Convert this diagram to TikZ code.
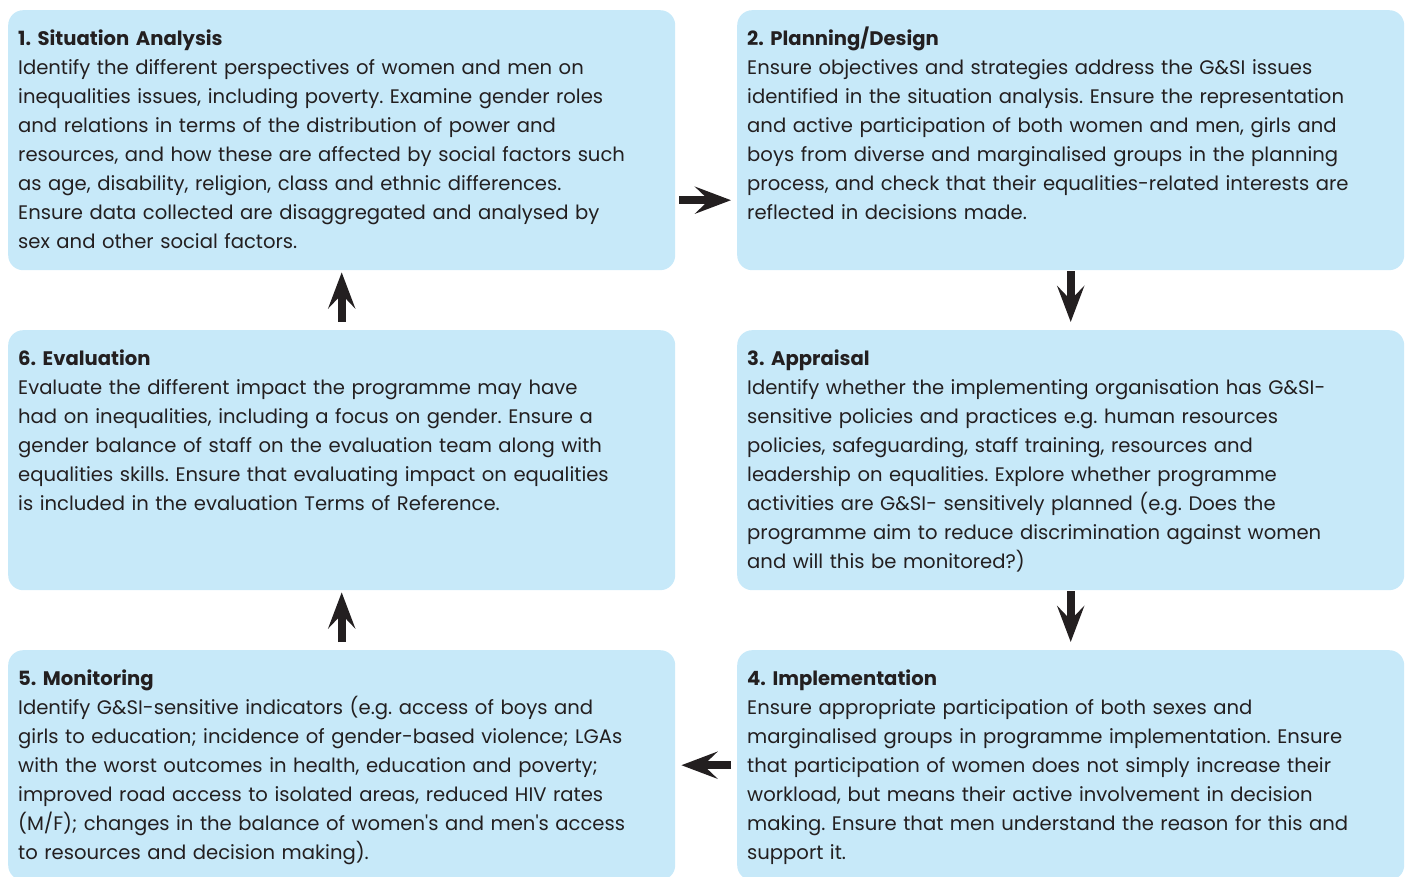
\documentclass[tikz,border=0pt]{standalone}
\usepackage{fontspec}
\setmainfont{Poppins}
\usetikzlibrary{arrows.meta}
\definecolor{boxblue}{RGB}{199,233,249}
\definecolor{ink}{RGB}{35,31,32}
\frenchspacing

\begin{document}
\begin{tikzpicture}[x=1pt,y=-1pt]
	\useasboundingbox (0,0) rectangle (1406,877);
	\begin{scope}[every node/.style={rectangle,rounded corners=15pt,fill=boxblue,
	              minimum width=667pt,minimum height=260pt,inner sep=0pt,anchor=north west}]
	    	\node (1) at (8,10) {};
	    	\node (2) at (737,10) {};
	    	\node (6) at (8,330) {};
	    	\node (3) at (737,330) {};
	    	\node[minimum height=230pt] (5) at (8,650) {};
	    	\node[minimum height=230pt] (4) at (737,650) {};
	\end{scope}

	\begin{scope}[every node/.style={anchor=north west,inner sep=0pt,text width=662pt,align=left,
	              text=ink,font=\fontsize{19.6}{29}\selectfont}]
		\node (t1) at ([xshift=10pt,yshift=-15pt]1.north west) {\rule{0pt}{20pt}\textbf{1. Situation Analysis}\\
			Identify the different perspectives of women and men on\\
			inequalities issues, including poverty. Examine gender roles\\
			and relations in terms of the distribution of power and\\
			resources, and how these are affected by social factors such\\
			as age, disability, religion, class and ethnic differences.\\
			Ensure data collected are disaggregated and analysed by\\
			sex and other social factors.};
		\node (t2) at ([xshift=10pt,yshift=-15pt]2.north west) {\rule{0pt}{20pt}\textbf{2. Planning/Design}\\
			Ensure objectives and strategies address the G\&SI issues\\
			identified in the situation analysis. Ensure the representation\\
			and active participation of both women and men, girls and\\
			boys from diverse and marginalised groups in the planning\\
			process, and check that their equalities-related interests are\\
			reflected in decisions made.};
		\node (t3) at ([xshift=10pt,yshift=-15pt]3.north west) {\rule{0pt}{20pt}\textbf{3. Appraisal}\\
			Identify whether the implementing organisation has G\&SI-\\
			sensitive policies and practices e.g. human resources\\
			policies, safeguarding, staff training, resources and\\
			leadership on equalities. Explore whether programme\\
			activities are G\&SI- sensitively planned (e.g. Does the\\
			programme aim to reduce discrimination against women\\
			and will this be monitored?)};
		\node (t4) at ([xshift=10pt,yshift=-15pt]4.north west) {\rule{0pt}{20pt}\textbf{4. Implementation}\\
			Ensure appropriate participation of both sexes and\\
			marginalised groups in programme implementation. Ensure\\
			that participation of women does not simply increase their\\
			workload, but means their active involvement in decision\\
			making. Ensure that men understand the reason for this and\\
			support it.};
		\node (t5) at ([xshift=10pt,yshift=-15pt]5.north west) {\rule{0pt}{20pt}\textbf{5. Monitoring}\\
			Identify G\&SI-sensitive indicators (e.g. access of boys and\\
			girls to education; incidence of gender-based violence; LGAs\\
			with the worst outcomes in health, education and poverty;\\
			improved road access to isolated areas, reduced HIV rates\\
			(M/F); changes in the balance of women\textquotesingle s and men\textquotesingle s access\\
			to resources and decision making).};
		\node (t6) at ([xshift=10pt,yshift=-15pt]6.north west) {\rule{0pt}{20pt}\textbf{6. Evaluation}\\
			Evaluate the different impact the programme may have\\
			had on inequalities, including a focus on gender. Ensure a\\
			gender balance of staff on the evaluation team along with\\
			equalities skills. Ensure that evaluating impact on equalities\\
			is included in the evaluation Terms of Reference.};
	\end{scope}

	\begin{scope}[>={Stealth[length=36pt,width=27pt,inset=14pt]},
	              every edge/.style={draw=ink,line width=8pt,->}]
		\path ([yshift=-60pt]1.east) edge[shorten <=4pt,shorten >=6pt] ([yshift=-60pt]2.west);
		\path (2) edge[shorten <=1pt,shorten >=8pt] (3);
		\path (3) edge[shorten <=1pt,shorten >=8pt] (4);
		\path (4) edge[shorten <=6pt,shorten >=6pt] (5);
		\path (5) edge[shorten <=8pt,shorten >=2pt] (6);
		\path (6) edge[shorten <=8pt,shorten >=2pt] (1);
	\end{scope}
\end{tikzpicture}
\end{document}
